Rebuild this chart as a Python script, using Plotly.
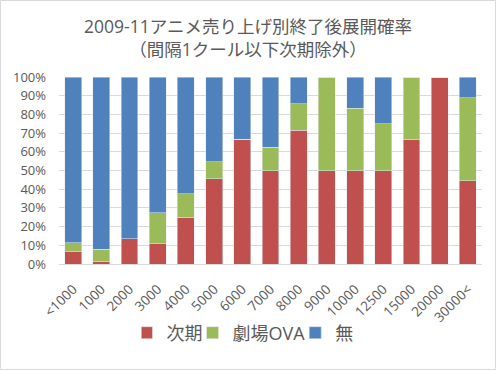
import plotly.graph_objects as go

categories = ["<1000", "1000", "2000", "3000", "4000", "5000", "6000", "7000",
              "8000", "9000", "10000", "12500", "15000", "20000", "30000<"]
next_season = [6.5, 1.6, 13.6, 10.7, 25.0, 45.5, 66.7, 50.0, 71.4, 50.0, 50.0, 50.0, 66.7, 100.0, 44.4]
movie_ova = [4.8, 6.4, 0.0, 16.8, 12.5, 9.1, 0.0, 12.5, 14.3, 50.0, 33.3, 25.0, 33.3, 0.0, 44.5]
none_ = [round(100 - a - b, 1) for a, b in zip(next_season, movie_ova)]

font_family = "Open Sans, Noto Sans CJK JP, sans-serif"
gray = "#595959"

fig = go.Figure()
fig.add_trace(go.Bar(x=categories, y=next_season, name="次期", marker_color="#c0504d"))
fig.add_trace(go.Bar(x=categories, y=movie_ova, name="劇場OVA", marker_color="#9bbb59"))
fig.add_trace(go.Bar(x=categories, y=none_, name="無", marker_color="#4f81bd"))

L, R, T, B = 59, 14, 77, 106
W, H = 496, 370
pw, ph = W - L - R, H - T - B

fig.update_layout(
    width=W, height=H,
    barmode="stack", bargap=0.4,
    margin=dict(l=L, r=R, t=T, b=B, autoexpand=False),
    paper_bgcolor="white", plot_bgcolor="white",
    font=dict(family=font_family, color=gray),
    title=dict(text="2009-11アニメ売り上げ別終了後展開確率<br>（間隔1クール以下次期除外）",
               x=0.5, xanchor="center", y=1 - 33 / H, yanchor="middle",
               font=dict(size=17.5, color=gray, family=font_family)),
    showlegend=True,
    legend=dict(orientation="h", x=(250 - L) / pw, xanchor="center", y=(H - B - 333) / ph,
                yanchor="middle", font=dict(size=18, color=gray), traceorder="normal",
                itemwidth=30, indentation=-15),
    xaxis=dict(tickangle=-45, tickfont=dict(size=13.5, color=gray), showgrid=False,
               showline=True, linecolor="#d9d9d9", ticks="", automargin=False,
               ticklabelstandoff=11),
    yaxis=dict(range=[0, 100], dtick=10, ticksuffix="%", tickfont=dict(size=13, color=gray),
               showgrid=True, gridcolor="#d9d9d9", zeroline=False, showline=False, ticks="",
               ticklabelstandoff=12, automargin=False),
    shapes=[dict(type="rect", xref="paper", yref="paper",
                 x0=(0.5 - L) / pw, x1=(W - 0.5 - L) / pw,
                 y0=(H - B - (H - 0.5)) / ph, y1=(H - B - 0.5) / ph,
                 line=dict(color="#d9d9d9", width=1), layer="below")],
)

fig.write_html("out.html", config={"displayModeBar": False},
               post_script="document.body.style.margin='0';")
